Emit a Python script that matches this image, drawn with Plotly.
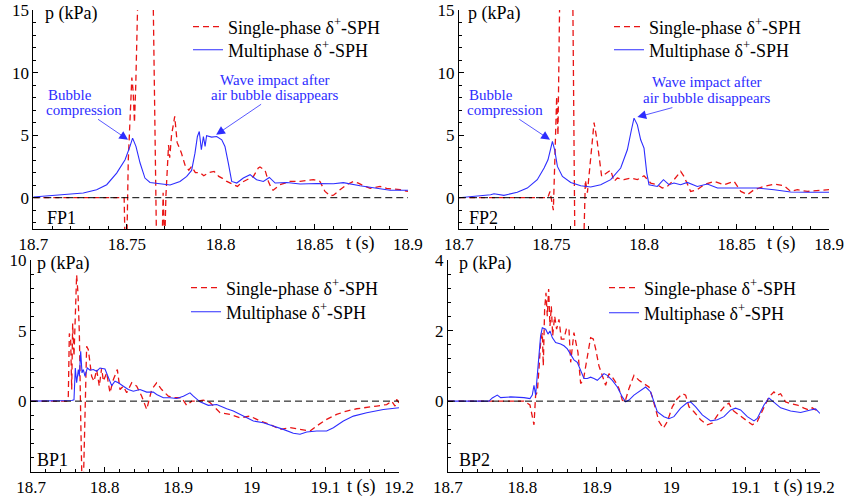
import plotly.graph_objects as go

# ---------------- data ----------------
# FP1
fp1_t_single = [18.700, 18.7485, 18.749, 18.7492, 18.7499, 18.7507, 18.752, 18.7526, 18.7533, 18.754, 18.7547, 18.7561,
                18.7638, 18.7659, 18.7686, 18.7693, 18.7701, 18.7708, 18.7716, 18.7722, 18.7728, 18.7738, 18.7755,
                18.7768, 18.779, 18.781, 18.783, 18.7845, 18.7865, 18.789, 18.791, 18.7935, 18.7965, 18.799, 18.801,
                18.8033, 18.807, 18.809, 18.811, 18.8139, 18.8175, 18.8201, 18.821, 18.8237, 18.8255, 18.8272, 18.828,
                18.8317, 18.837, 18.8424, 18.8495, 18.853, 18.8557, 18.8584, 18.8602, 18.8637, 18.8673, 18.8709,
                18.8735, 18.8762, 18.8798, 18.8851, 18.8886, 18.8958, 18.900]
fp1_p_single = [0, 0, -4, -4, -4, 3.0, 7.8, 9.6, 8.5, 6.0, 9.0, 18,
                18, -5, -5, 0.4, -4, 0.2, 2.5, 4.2, 3.2, 5.0, 6.5,
                4.4, 3.6, 2.6, 2.2, 2.5, 2.0, 2.0, 1.75, 2.0, 2.1, 1.7, 1.55,
                1.3, 1.04, 0.9, 1.2, 1.44, 1.7, 2.37, 2.45, 2.2, 1.3, 0.7, 0.6,
                1.04, 1.3, 1.3, 1.44, 1.3, 0.5, 0.16, 0.2, 0.64, 1.04, 1.3,
                1.17, 0.96, 0.74, 0.9, 0.74, 0.64, 0.5]
fp1_t_multi = [18.700, 18.7178, 18.7267, 18.7338, 18.7392, 18.7445, 18.749, 18.7516, 18.753, 18.7548, 18.757, 18.7596,
               18.7623, 18.7676, 18.773, 18.7783, 18.7819, 18.7845, 18.7863, 18.7876, 18.7886, 18.7897, 18.7908,
               18.7917, 18.7925, 18.7952, 18.7979, 18.8006, 18.8023, 18.8041, 18.8059, 18.8086, 18.8121, 18.8157,
               18.8192, 18.8228, 18.826, 18.8291, 18.8353, 18.8424, 18.8513, 18.8602, 18.8655, 18.8744, 18.8833,
               18.8904, 18.900]
fp1_p_multi = [0.05, 0.24, 0.37, 0.64, 1.04, 1.97, 3.03, 4.1, 4.76, 4.1, 2.77, 1.57,
               1.22, 1.12, 1.01, 1.3, 1.7, 2.18, 3.56, 4.89, 5.29, 3.83, 4.89,
               4.1, 4.95, 4.84, 4.89, 4.63, 4.1, 2.77, 1.3, 1.17, 1.57, 1.84,
               1.44, 1.3, 1.62, 1.17, 1.22, 1.09, 1.14, 1.12, 1.2, 0.96, 0.74,
               0.59, 0.59]

# FP2
fp2_t_single = [18.700, 18.748, 18.7492, 18.751, 18.7518, 18.7528, 18.7535, 18.7546, 18.7614, 18.7627, 18.7672,
                18.7683, 18.7694, 18.7712, 18.773, 18.7746, 18.7771, 18.782, 18.7838, 18.7856, 18.7892, 18.7928,
                18.7964, 18.800, 18.8036, 18.8072, 18.8099, 18.8126, 18.8162, 18.8198, 18.8216, 18.8252, 18.8288,
                18.8324, 18.8379, 18.8433, 18.8487, 18.8523, 18.8559, 18.8595, 18.8649, 18.8703, 18.8757, 18.8793,
                18.8829, 18.8883, 18.8937, 18.900]
fp2_p_single = [0, 0, 0.5, -1.0, 3.0, 8.1, 5.0, 18, 18, -5, -5,
                1.4, 0.4, 3.0, 6.0, 4.6, 1.7, 2.2, 1.3, 1.57, 1.44, 1.57,
                1.44, 1.75, 1.17, 1.04, 0.77, 0.9, 1.44, 2.1, 1.7, 0.5, 0.64,
                1.04, 1.3, 1.04, 1.3, 0.5, 0.24, 0.64, 0.9, 1.09, 0.96, 0.5,
                0.64, 0.5, 0.59, 0.64]
fp2_t_multi = [18.700, 18.7081, 18.7171, 18.7189, 18.7243, 18.7315, 18.7369, 18.7423, 18.746, 18.7481, 18.7505,
               18.7517, 18.7532, 18.7559, 18.7604, 18.7658, 18.7712, 18.7766, 18.782, 18.7874, 18.791, 18.7932,
               18.7946, 18.7964, 18.7982, 18.800, 18.8015, 18.8027, 18.8054, 18.8072, 18.8105, 18.8135, 18.8162,
               18.8198, 18.8234, 18.8288, 18.8342, 18.8397, 18.8523, 18.8613, 18.8703, 18.8793, 18.8883, 18.900]
fp2_p_multi = [0, 0.1, 0.24, 0.32, 0.19, 0.43, 0.77, 1.44, 2.37, 3.03, 4.5,
               3.83, 2.5, 1.7, 1.22, 0.96, 0.85, 1.04, 1.44, 2.37, 3.83, 5.43,
               6.36, 5.82, 4.63, 3.96, 1.97, 1.04, 0.96, 0.9, 1.44, 1.04, 1.17,
               1.04, 1.22, 0.9, 1.09, 0.77, 0.77, 0.77, 0.64, 0.45, 0.43, 0.43]

# BP1
bp1_t_single = [18.700, 18.7485, 18.7507, 18.7521, 18.7539, 18.7553, 18.7566, 18.7584, 18.7602, 18.762, 18.7639,
                18.7657, 18.7675, 18.7693, 18.7711, 18.7734, 18.7756, 18.7779, 18.7802, 18.7824, 18.7856, 18.7892,
                18.7928, 18.796, 18.7983, 18.8028, 18.8073, 18.8119, 18.8173, 18.8209, 18.8255, 18.830, 18.8368,
                18.8436, 18.8504, 18.8572, 18.864, 18.8707, 18.8775, 18.8866, 18.8934, 18.9047, 18.9115, 18.9183,
                18.9251, 18.9342, 18.9432, 18.9568, 18.9704, 18.984, 18.9976, 19.0111, 19.0247, 19.0383, 19.0519,
                19.0655, 19.0791, 19.0881, 19.1017, 19.1153, 19.1289, 19.1425, 19.1561, 19.1697, 19.1832, 19.190,
                19.1946, 19.1968, 19.200]
bp1_p_single = [0, 0, 0.35, 4.8, 4.35, 0.82, 5.5, 3.2, 6.0, 8.94, 7.6,
                4.8, -1.06, -6, -6, -0.6, 3.88, 3.65, 2.47, 1.76, 1.4, 2.24,
                1.06, 2.35, 1.41, 2.0, 0.59, 1.53, 2.24, 0.82, 1.06, 0.59, 1.3,
                1.06, 0.35, -0.59, 0.82, 1.3, 0.82, 0.35, 0.24, 0.24, -0.3, 0,
                0, 0.07, -0.1, -0.82, -0.94, -1.18, -1.06, -1.41, -1.65, -2.0, -1.88,
                -2.0, -2.12, -1.76, -1.29, -0.94, -0.7, -0.54, -0.47, -0.35, -0.24, 0,
                -0.35, 0.12, -0.12]
bp1_t_multi = [18.700, 18.7485, 18.7553, 18.7584, 18.7602, 18.762, 18.7643, 18.7657, 18.7675, 18.7693, 18.7711,
               18.7734, 18.7765, 18.7802, 18.7847, 18.7892, 18.7938, 18.8005, 18.8037, 18.8073, 18.8096, 18.8141,
               18.8187, 18.8255, 18.8322, 18.839, 18.8481, 18.8572, 18.8662, 18.8707, 18.8798, 18.8889, 18.8979,
               18.907, 18.916, 18.9206, 18.9296, 18.9409, 18.9523, 18.9659, 18.9749, 18.9885, 19.0021, 19.0157,
               19.0293, 19.0428, 19.0564, 19.0655, 19.0746, 19.0881, 19.1017, 19.1108, 19.1244, 19.138, 19.1561,
               19.1787, 19.200]
bp1_p_multi = [0, 0, 0.05, 0.1, 2.35, 1.3, 2.24, 1.76, 3.53, 2.0, 2.24,
               1.76, 2.35, 2.19, 2.24, 2.12, 2.35, 2.28, 1.88, 1.3, 1.1, 1.41,
               1.3, 1.06, 0.82, 0.7, 0.82, 0.64, 0.64, 0.47, 0.24, 0.24, 0.19,
               0.35, 0.59, 0.35, -0.05, -0.3, -0.24, -0.54, -0.7, -1.06, -1.41, -1.53,
               -1.76, -2.0, -2.28, -2.35, -2.19, -2.12, -2.12, -1.88, -1.41, -1.06, -0.82,
               -0.59, -0.47]

# BP2
bp2_t_single = [18.700, 18.8021, 18.8102, 18.8156, 18.8178, 18.8201, 18.8223, 18.8245, 18.8268, 18.8281, 18.8299,
                18.8317, 18.8335, 18.8353, 18.8371, 18.8389, 18.8407, 18.8434, 18.846, 18.8492, 18.8523, 18.8559,
                18.8595, 18.8626, 18.8649, 18.8693, 18.8747, 18.8783, 18.8819, 18.8873, 18.8917, 18.8953, 18.8985,
                18.9029, 18.9074, 18.9119, 18.9164, 18.9209, 18.9253, 18.9298, 18.9343, 18.9379, 18.9433, 18.950,
                18.9567, 18.9634, 18.9701, 18.9746, 18.9791, 18.9836, 18.9894, 18.9948, 19.0015, 19.0082, 19.0149,
                19.0194, 19.0239, 19.0306, 19.0396, 19.0485, 19.0553, 19.0642, 19.0732, 19.0777, 19.0821, 19.0911,
                19.1001, 19.109, 19.1157, 19.1247, 19.1314, 19.1381, 19.1426, 19.1471, 19.1538, 19.1605, 19.1695,
                19.1785, 19.1852, 19.1897, 19.1941, 19.200]
bp2_p_single = [0, 0, -0.11, -0.67, 0.17, 0.26, 0.92, 1.66, 1.94, 1.0, 2.6,
                3.07, 2.41, 3.18, 2.13, 2.69, 1.85, 2.41, 2.04, 2.32, 1.76, 1.76,
                2.08, 2.04, 1.1, 1.94, 1.38, 0.5, 0.59, 1.29, 1.8, 1.76, 1.48,
                1.0, 0.73, 0.45, 0.78, 0.68, 0.54, 0.36, 0.03, -0.02, 0.36, 0.73,
                0.59, 0.5, 0.4, 0.12, -0.2, -0.58, -0.77, -0.58, -0.16, 0.07, 0.21,
                0.17, -0.16, -0.3, -0.53, -0.67, -0.62, -0.34, -0.11, -0.06, -0.25, -0.39,
                -0.53, -0.67, -0.58, -0.16, 0.12, 0.26, 0.17, 0.21, -0.02, -0.07, -0.11,
                -0.2, -0.25, -0.19, -0.25, -0.28]
bp2_t_multi = [18.700, 18.7551, 18.7596, 18.7663, 18.7708, 18.7842, 18.8021, 18.8102, 18.8133, 18.8156, 18.8178,
               18.8201, 18.8223, 18.8245, 18.8268, 18.8313, 18.8344, 18.8371, 18.8402, 18.8447, 18.8514, 18.8559,
               18.8604, 18.8649, 18.8693, 18.8738, 18.8783, 18.8828, 18.8873, 18.8917, 18.8962, 18.9007, 18.9052,
               18.9097, 18.9141, 18.9209, 18.9276, 18.9343, 18.9388, 18.9433, 18.950, 18.9589, 18.9657, 18.9724,
               18.9769, 18.9813, 18.9903, 18.997, 19.0037, 19.0127, 19.0217, 19.0261, 19.0329, 19.0418, 19.053,
               19.062, 19.0709, 19.0799, 19.0866, 19.0933, 19.1023, 19.1113, 19.1157, 19.1247, 19.1314, 19.1381,
               19.1471, 19.1605, 19.174, 19.1874, 19.1941, 19.200]
bp2_p_multi = [0, 0, 0.09, 0.17, 0.1, 0.12, 0.1, 0.07, 0.17, 0.45, 0.17,
               0.73, 1.48, 1.85, 2.08, 2.04, 1.9, 1.99, 1.8, 1.66, 1.62, 1.57,
               1.48, 1.34, 1.17, 1.1, 0.87, 0.64, 0.64, 0.68, 0.64, 0.59, 0.68,
               0.78, 0.73, 0.59, 0.4, 0.12, -0.02, 0.03, 0.17, 0.31, 0.4, 0.26,
               -0.02, -0.3, -0.44, -0.5, -0.44, -0.2, -0.04, -0.02, -0.16, -0.39, -0.56,
               -0.53, -0.44, -0.25, -0.2, -0.25, -0.44, -0.56, -0.49, -0.11, 0.09, -0.02,
               -0.19, -0.28, -0.32, -0.25, -0.22, -0.35]

panel_names = ["FP1", "FP2", "BP1", "BP2"]
series_names = ["Single-phase δ<sup>+</sup>-SPH", "Multiphase δ<sup>+</sup>-SPH"]
x_ranges = [[18.7, 18.9], [18.7, 18.9], [18.7, 19.2], [18.7, 19.2]]
y_ranges = [[-2.5, 15], [-2.5, 15], [-5, 10], [-2, 4]]
x_tickvals_fp = [18.7, 18.75, 18.8, 18.85, 18.9]
x_ticktext_fp = ["18.7", "18.75", "18.8", "18.85", "18.9"]
x_tickvals_bp = [18.7, 18.8, 18.9, 19.0, 19.1, 19.2]
x_ticktext_bp = ["18.7", "18.8", "18.9", "19", "19.1", "19.2"]
y_tickvals = [[0, 5, 10, 15], [0, 5, 10, 15], [0, 5, 10], [0, 2, 4]]
y_labels = [["0", "5", "10", "15"], ["0", "5", "10", "15"], ["0", "5", "10"], ["0", "2", "4"]]
ts_label_pos = [18.8745, 18.8745, 19.149, 19.158]
callout_line1 = ["Bubble", "Wave impact after"]
callout_line2 = ["compression", "air bubble disappears"]

single_t = [fp1_t_single, fp2_t_single, bp1_t_single, bp2_t_single]
single_p = [fp1_p_single, fp2_p_single, bp1_p_single, bp2_p_single]
multi_t = [fp1_t_multi, fp2_t_multi, bp1_t_multi, bp2_t_multi]
multi_p = [fp1_p_multi, fp2_p_multi, bp1_p_multi, bp2_p_multi]

# ---------------- layout constants ----------------
W, H = 847, 498
FONT = "Liberation Serif"
RED = "rgb(232,20,20)"
BLUE = "rgb(45,45,255)"

x_domains = [[0.0393, 0.4817], [0.5419, 0.9788], [0.0366, 0.4711], [0.5289, 0.9681]]
y_domains = [[0.5402, 0.9799], [0.5402, 0.9799], [0.0528, 0.4779], [0.0528, 0.4779]]
x_minor = [0.01, 0.01, 0.02, 0.02]
y_minor = [1, 1, 1, 0.4]
legend_text_x = [226, 647, 224, 642]          # pixel, where legend text starts
legend_row_y = [(27, 50), (27, 50), (288, 312), (288, 313)]  # pixel centers of rows
p_label_x = [43, 466, 35, 457]
panel_label_pos = [(45, 218), (467, 218), (35, 460), (457, 460)]

fig = go.Figure()

legend_cfg = {}
for i in range(4):
    sfx = "" if i == 0 else str(i + 1)
    for j in range(2):
        k = 2 * i + j
        leg = "legend" if k == 0 else "legend" + str(k + 1)
        t = single_t[i] if j == 0 else multi_t[i]
        p = single_p[i] if j == 0 else multi_p[i]
        line = dict(color=RED, width=1.3, dash="6px,4px") if j == 0 else dict(color=BLUE, width=1.1)
        fig.add_trace(go.Scatter(x=t, y=p, mode="lines", name=series_names[j], line=line,
                                 xaxis="x" + sfx, yaxis="y" + sfx, legend=leg))
        legend_cfg[leg] = dict(x=(legend_text_x[i] - 38) / W, y=1 - legend_row_y[i][j] / H,
                               xanchor="left", yanchor="middle",
                               bgcolor="rgba(0,0,0,0)", borderwidth=0,
                               font=dict(family=FONT, size=18, color="black"))

layout = dict(
    width=W, height=H, margin=dict(l=0, r=0, t=0, b=0, autoexpand=False),
    paper_bgcolor="white", plot_bgcolor="white",
    font=dict(family=FONT, size=17, color="black"),
    showlegend=True,
)
layout.update(legend_cfg)

annotations = []
shapes = []
for i in range(4):
    sfx = "" if i == 0 else str(i + 1)
    fp = i < 2
    xa = dict(domain=x_domains[i], range=x_ranges[i], anchor="y" + sfx, automargin=False,
              showline=True, linecolor="black", linewidth=1, mirror=False,
              showgrid=False, zeroline=False,
              ticks="inside", ticklen=5, tickwidth=1, tickcolor="black",
              tickvals=x_tickvals_fp if fp else x_tickvals_bp,
              ticktext=x_ticktext_fp if fp else x_ticktext_bp,
              tickfont=dict(family=FONT, size=17, color="black"),
              minor=dict(ticks="inside", ticklen=3, tickcolor="black", dtick=x_minor[i], showgrid=False))
    ya = dict(domain=y_domains[i], range=y_ranges[i], anchor="x" + sfx, automargin=False,
              showline=True, linecolor="black", linewidth=1, mirror=False,
              showgrid=False, zeroline=False,
              ticks="inside", ticklen=5, tickwidth=1, tickcolor="black",
              tickvals=y_tickvals[i], ticktext=y_labels[i],
              tickfont=dict(family=FONT, size=17, color="black"),
              minor=dict(ticks="inside", ticklen=3, tickcolor="black", dtick=y_minor[i], showgrid=False))
    layout["xaxis" + sfx] = xa
    layout["yaxis" + sfx] = ya

    shapes.append(dict(type="line", xref="x" + sfx + " domain", x0=0, x1=1,
                       yref="y" + sfx, y0=0, y1=0,
                       line=dict(color="black", width=1, dash="7px,4px")))
    annotations.append(dict(text="p (kPa)", xref="paper", yref="y" + sfx + " domain",
                            x=p_label_x[i] / W, y=1, xanchor="left", yanchor="middle", yshift=-3,
                            showarrow=False, font=dict(family=FONT, size=18, color="black")))
    annotations.append(dict(text="t (s)", xref="x" + sfx, yref="y" + sfx + " domain",
                            x=ts_label_pos[i], y=0, xanchor="center", yanchor="top", yshift=-2,
                            showarrow=False, font=dict(family=FONT, size=18, color="black")))
    px_, py_ = panel_label_pos[i]
    annotations.append(dict(text=panel_names[i], xref="paper", yref="paper",
                            x=px_ / W, y=1 - py_ / H, xanchor="left", yanchor="middle",
                            showarrow=False, font=dict(family=FONT, size=18, color="black")))

# callouts: (axis suffix, which text, anchor, line1 center px (x,y), line2 center px (x,y), tip (t,p), tip px)
callouts = [
    ("", 0, "left", (46, 95), (46, 110), (18.7506, 4.63), (128, 140)),
    ("", 1, "center", (275, 80), (275, 95), (18.7976, 5.03), (216, 135)),
    ("2", 0, "left", (467, 95), (467, 110), (18.7492, 4.63), (550, 140)),
    ("2", 1, "center", (707, 82), (707, 98), (18.7964, 6.44), (637, 117)),
]
for sfx, which, anc, l1, l2, tip, tip_px in callouts:
    annotations.append(dict(text=callout_line1[which], xref="paper", yref="paper",
                            x=l1[0] / W, y=1 - l1[1] / H, xanchor=anc, yanchor="middle",
                            showarrow=False, font=dict(family=FONT, size=15, color=BLUE)))
    if anc == "left":
        cx = l2[0] + (38 if which == 0 else 64)
    else:
        cx = l2[0]
    annotations.append(dict(text=callout_line2[which], xref="x" + sfx, yref="y" + sfx,
                            x=tip[0], y=tip[1], ax=cx - tip_px[0], ay=l2[1] - tip_px[1],
                            showarrow=True, arrowhead=2, arrowsize=2.2, arrowwidth=0.8,
                            arrowcolor=BLUE,
                            font=dict(family=FONT, size=15, color=BLUE)))

layout["annotations"] = annotations
layout["shapes"] = shapes
fig.update_layout(**layout)

fig.write_html("out.html")
